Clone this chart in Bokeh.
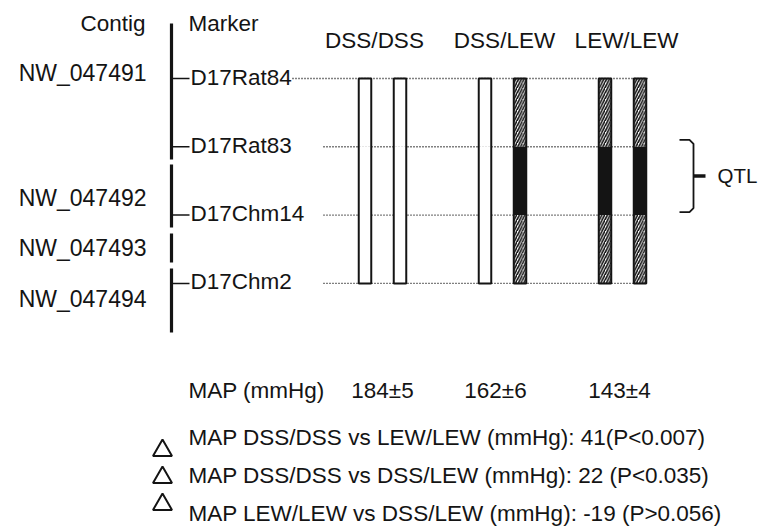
from bokeh.plotting import figure
from bokeh.models import Range1d, ColumnDataSource
from bokeh.core.properties import value
from bokeh.embed import file_html
from bokeh.resources import INLINE

# ---- data -------------------------------------------------------------
contigs = ["NW_047491", "NW_047492", "NW_047493", "NW_047494"]
markers = ["D17Rat84", "D17Rat83", "D17Chm14", "D17Chm2"]
genotypes = ["DSS/DSS", "DSS/LEW", "LEW/LEW"]

# parental origin of each interval between adjacent markers,
# two chromosomes per genotype group
chrom_alleles = [
    ["DSS", "DSS", "DSS"], ["DSS", "DSS", "DSS"],   # DSS/DSS
    ["DSS", "DSS", "DSS"], ["LEW", "LEW", "LEW"],   # DSS/LEW
    ["LEW", "LEW", "LEW"], ["LEW", "LEW", "LEW"],   # LEW/LEW
]
qtl_markers = ("D17Rat83", "D17Chm14")

map_mean = [184, 162, 143]
map_sem = [5, 6, 4]

# (group A, group B, gap before p, p-value text)
comparisons = [
    ("DSS/DSS", "LEW/LEW", "", "P<0.007"),
    ("DSS/DSS", "DSS/LEW", " ", "P<0.035"),
    ("LEW/LEW", "DSS/LEW", " ", "P>0.056"),
]

# ---- layout / style ---------------------------------------------------
FONT = "Liberation Sans"
INK = "#141414"
FS = "22.5px"

ROW0, ROW_STEP = 78, 68.3
row_y = [ROW0 + i * ROW_STEP for i in range(len(markers))]
group_x = [382, 502, 622]
header_shift = [-8, 2, 4]
value_shift = [0, -7, -3]
PAIR_OFF = 17.5
BAR_W = 12.5
AXIS_X = 171

contig_spans = [(23, 159), (164, 227), (233, 262), (268, 332)]
contig_label_y = [72, 197, 247, 298]

p = figure(width=761, height=526, x_range=Range1d(0, 761), y_range=Range1d(526, 0),
           output_backend="svg", toolbar_location=None,
           x_axis_type=None, y_axis_type=None, min_border=0)
p.outline_line_color = None
p.grid.visible = False
p.background_fill_color = "white"
p.border_fill_color = "white"


def txt(xs, ys, texts, align="left", size=FS):
    p.text(x=xs, y=ys, text=texts, text_font=value(FONT), text_font_size=size,
           text_align=align, text_baseline="middle", text_color=INK)


# column headers
txt([145], [23], ["Contig"], align="right")
txt([188], [23], ["Marker"])
txt([g + s for g, s in zip(group_x, header_shift)], [40] * 3, genotypes, align="center")

# contig backbone
p.segment(x0=[AXIS_X] * 4, y0=[s[0] for s in contig_spans],
          x1=[AXIS_X] * 4, y1=[s[1] for s in contig_spans],
          line_color=INK, line_width=3.2)
txt([146] * 4, contig_label_y, contigs, align="right", size="23px")

# marker ticks and names
p.segment(x0=[AXIS_X] * 4, y0=row_y, x1=[189] * 4, y1=row_y, line_color=INK, line_width=1.5)
txt([190] * 4, [y - 1.5 for y in row_y], markers)

# dotted guides across the genotype columns
last_left = group_x[-1] + PAIR_OFF - BAR_W / 2
dot_x0 = [292] + [323] * (len(markers) - 1)
dot_x1 = [648] + [last_left] * (len(markers) - 1)
p.segment(x0=dot_x0, y0=row_y, x1=dot_x1, y1=row_y,
          line_color="#000000", line_width=1.4, line_dash="1 2")

# chromosome bars
qk = markers.index(qtl_markers[0])
seg = dict(left=[], right=[], top=[], bottom=[], fill=[], hatch=[])
outl = dict(left=[], right=[], top=[], bottom=[])
for gi in range(len(genotypes)):
    for ci in range(2):
        alleles = chrom_alleles[gi * 2 + ci]
        xc = group_x[gi] + (2 * ci - 1) * PAIR_OFF
        l, r = xc - BAR_W / 2, xc + BAR_W / 2
        for k, allele in enumerate(alleles):
            seg["left"].append(l)
            seg["right"].append(r)
            seg["top"].append(row_y[k])
            seg["bottom"].append(row_y[k + 1])
            if allele == "DSS":
                seg["fill"].append("white")
                seg["hatch"].append(" ")
            elif k == qk:
                seg["fill"].append(INK)
                seg["hatch"].append(" ")
            else:
                seg["fill"].append("white")
                seg["hatch"].append("/")
        outl["left"].append(l)
        outl["right"].append(r)
        outl["top"].append(row_y[0])
        outl["bottom"].append(row_y[-1])

p.quad(left="left", right="right", top="top", bottom="bottom", source=ColumnDataSource(seg),
       fill_color="fill", line_color=None, hatch_pattern="hatch",
       hatch_color="#111111", hatch_scale=5.5, hatch_weight=1.6)
p.quad(left="left", right="right", top="top", bottom="bottom", source=ColumnDataSource(outl),
       fill_color=None, line_color=INK, line_width=2)

# QTL bracket
qt = row_y[markers.index(qtl_markers[0])] - 7
qb = row_y[markers.index(qtl_markers[1])] - 3
qm = (qt + qb) / 2
bx = 693
p.line(x=[679, 689, bx, bx, 689, 679], y=[qt, qt, qt + 4, qb - 4, qb, qb],
       line_color=INK, line_width=1.8)
p.segment(x0=[bx], y0=[qm], x1=[705], y1=[qm], line_color=INK, line_width=3.5)
txt([717], [qm], ["QTL"], size="20.5px")

# blood pressure per genotype
txt([188], [390], ["MAP (mmHg)"])
txt([g + s for g, s in zip(group_x, value_shift)], [390] * 3,
    [f"{m}\u00b1{s}" for m, s in zip(map_mean, map_sem)], align="center")

# pairwise differences
cmp_y = [437, 475, 513]
tri_y = [450, 477, 504]
lines = []
for a, b, gap, pv in comparisons:
    d = map_mean[genotypes.index(a)] - map_mean[genotypes.index(b)]
    lines.append(f"MAP {a} vs {b} (mmHg): {d}{gap}({pv})")
p.scatter(x=[162] * 3, y=tri_y, marker="triangle", size=19,
          fill_color=None, line_color=INK, line_width=2)
txt([188] * 3, cmp_y, lines)

open("out.html", "w").write(file_html(p, INLINE))
